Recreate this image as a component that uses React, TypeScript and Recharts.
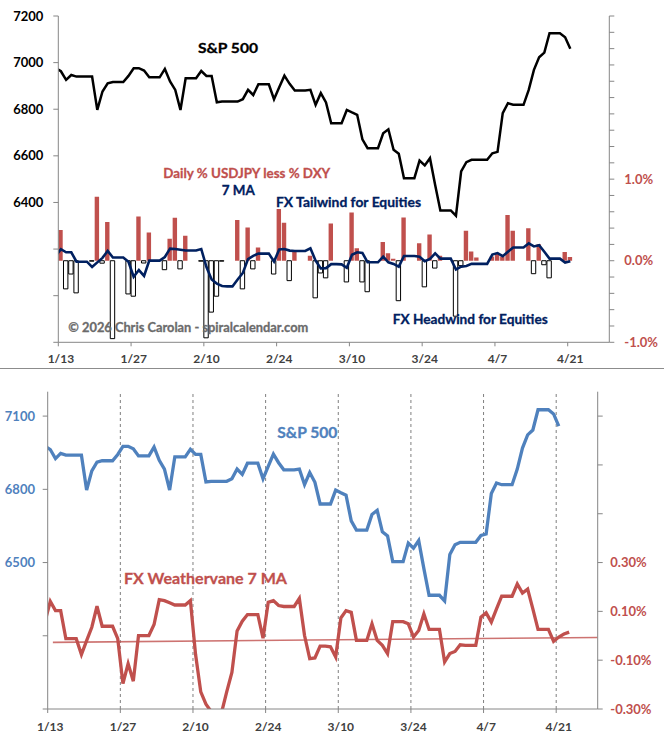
import React from 'react';
import { ComposedChart, Line, Bar, Cell, XAxis, YAxis, ReferenceLine } from 'recharts';

// ---------- data (index 0 = 1/12, index 1 = 1/13, one entry per calendar day) ----------
const firstDay = -1; // day offset of the first entry relative to 1/13

const tickDays = [0, 14, 28, 42, 56, 70, 84, 98];
const tickLabels = ['1/13', '1/27', '2/10', '2/24', '3/10', '3/24', '4/7', '4/21'];

// S&P 500 close (weekends / holidays carry the prior close)
const spx = [
  6977, 6963, 6926, 6947, 6940, 6940, 6940, // 1/12 - 1/18
  6940, 6797, 6876, 6911, 6917, 6917, 6917, // 1/19 - 1/25
  6943, 6976, 6976, 6966, 6937, 6937, 6937, // 1/26 - 2/1
  6973, 6919, 6883, 6797, 6933, 6933, 6933, // 2/2 - 2/8
  6964, 6943, 6943, 6830, 6833, 6833, 6833, // 2/9 - 2/15
  6833, 6843, 6883, 6861, 6907, 6907, 6907, // 2/16 - 2/22
  6843, 6894, 6944, 6909, 6880, 6880, 6880, // 2/23 - 3/1
  6883, 6819, 6869, 6829, 6740, 6740, 6740, // 3/2 - 3/8
  6797, 6786, 6776, 6671, 6633, 6633, 6633, // 3/9 - 3/15
  6697, 6714, 6626, 6609, 6504, 6504, 6504, // 3/16 - 3/22
  6580, 6559, 6590, 6475, 6366, 6366, 6366, // 3/23 - 3/29
  6343, 6533, 6573, 6583, 6583, 6583, 6583, // 3/30 - 4/5
  6611, 6617, 6783, 6826, 6819, 6819, 6819, // 4/6 - 4/12
  6883, 6969, 7023, 7043, 7126, 7126, 7126, // 4/13 - 4/19
  7109, 7059, // 4/20 - 4/21
];

// Daily % USDJPY less % DXY (in %)
const fxDaily: (number | null)[] = [
  null, 0.378, -0.345, -0.163, -0.394, null, null,
  -0.005, 0.784, -0.03, 0.476, -0.955, null, null,
  -0.407, -0.435, 0.541, -0.028, 0.346, null, null,
  -0.11, 0.268, 0.528, -0.1, 0.305, null, null,
  -0.005, -0.945, -0.63, -0.435, -0.005, null, null,
  0.5, -0.345, 0.407, -0.1, 0.163, null, null,
  -0.163, 0.634, 0.467, -0.244, 0.122, null, null,
  0.061, -0.455, -0.15, -0.21, 0.455, null, null,
  -0.26, 0.59, 0.154, -0.26, -0.38, null, null,
  0.23, 0.093, 0.024, -0.49, 0.53, null, null,
  0.215, -0.32, 0.32, -0.09, 0.06, null, null,
  -0.68, -0.06, 0.366, 0.114, 0.04, null, null,
  0.053, 0.093, 0.053, 0.561, 0.366, null, null,
  0.398, -0.159, 0.203, -0.049, -0.21, null, null,
  0.106, 0.045,
];

// FX Weathervane 7-day moving average (in %)
const fx7ma = [
  0.06, 0.141, 0.103, 0.103, -0.012, -0.012, -0.012,
  -0.077, -0.02, 0.035, 0.121, 0.039, 0.039, 0.039,
  -0.012, -0.196, -0.114, -0.186, 0.001, 0.001, 0.001,
  0.046, 0.148, 0.144, 0.135, 0.126, 0.126, 0.126,
  0.144, -0.077, -0.23, -0.28, -0.31, -0.315, -0.315,
  -0.23, -0.15, 0.02, 0.06, 0.087, 0.087, 0.087,
  -0.01, 0.137, 0.144, 0.124, 0.12, 0.12, 0.12,
  0.153, 0.001, -0.094, -0.091, -0.042, -0.042, -0.045,
  -0.087, 0.073, 0.103, 0.096, -0.019, -0.019, -0.019,
  0.049, -0.019, -0.039, -0.073, 0.058, 0.058, 0.058,
  0.049, -0.005, 0.022, 0.09, 0.026, 0.026, 0.026,
  -0.107, -0.073, -0.064, -0.037, -0.039, -0.039, -0.039,
  0.076, 0.094, 0.056, 0.11, 0.162, 0.162, 0.162,
  0.212, 0.175, 0.191, 0.11, 0.026, 0.026, 0.026,
  -0.023, -0.005, 0.007, 0.015,
];

// linear trend of the 7 MA (start / end of the drawn trendline)
const trendDays = [0.5, 105.5];
const trendValues = [-0.027, -0.007];

const spxTopTicks = [5800, 6000, 6200, 6400, 6600, 6800, 7000, 7200];
const fxTopTicks = [-1, -0.8, -0.6, -0.4, -0.2, 0, 0.2, 0.4, 0.6, 0.8, 1, 1.2, 1.4, 1.6, 1.8, 2, 2.2, 2.4, 2.6, 2.8, 3];
const spxBottomTicks = [5900, 6200, 6500, 6800, 7100];
const fxBottomTicks = [-0.3, -0.1, 0.1, 0.3, 0.5, 0.7, 0.9];

// ---------- tables ----------
const topData = spx.map((v, i) => ({
  x: firstDay + i + 0.5,
  spx: v,
  fx: fxDaily[i],
  ma: fx7ma[i],
}));

const bottomData = fx7ma.map((v, i) => ({
  x: firstDay + i + 0.5,
  spx: i < spx.length ? spx[i] : null,
  ma: v,
}));

const trendData = trendDays.map((d, i) => ({ x: d + 0.5, trend: trendValues[i] }));

// ---------- styles ----------
const FONT = "Lato, 'Open Sans', sans-serif";
const RED = '#C0504D';
const BLUE = '#4F81BD';
const NAVY = '#002060';
const AXIS = '#868686';

const dateLabel = (v: number) => {
  const i = tickDays.indexOf(v);
  return i >= 0 ? tickLabels[i] : '';
};

const DateTick = (props: any) => {
  const { x, y, payload } = props;
  return (
    <text
      x={x + 2.6}
      y={y}
      dy="0.71em"
      textAnchor="middle"
      fontFamily={FONT}
      fontSize={12}
      fontWeight={700}
      fill="#404040"
    >
      {dateLabel(payload.value)}
    </text>
  );
};

const tickStyle = (fill: string) => ({ fill, fontSize: 13, fontWeight: 700, fontFamily: FONT });

type Label = { text: string; x: number; y: number; size: number; fill: string; len: number };
const labels: Label[] = [
  { text: 'S&P 500', x: 198, y: 52.7, size: 14, fill: '#000', len: 60 },
  { text: 'Daily % USDJPY less % DXY', x: 163.3, y: 177.7, size: 14, fill: RED, len: 167 },
  { text: '7 MA', x: 221.7, y: 195, size: 13.5, fill: NAVY, len: 33 },
  { text: 'FX Tailwind for Equities', x: 276, y: 206.5, size: 13.5, fill: NAVY, len: 145 },
  { text: 'FX Headwind for Equities', x: 392.7, y: 324, size: 13.5, fill: NAVY, len: 155 },
  { text: '© 2026 Chris Carolan - spiralcalendar.com', x: 68.3, y: 332, size: 13, fill: '#6b6b6b', len: 240 },
  { text: 'S&P 500', x: 277.3, y: 438, size: 15, fill: BLUE, len: 60 },
  { text: 'FX Weathervane 7 MA', x: 124, y: 583.5, size: 16, fill: RED, len: 163 },
];

export default function App() {
  return (
    <div style={{ position: 'absolute', left: 0, top: 0, width: 664, height: 741, background: '#fff', overflow: 'hidden' }}>
      {/* ---------- top panel ---------- */}
      <div style={{ position: 'absolute', left: 0, top: 0 }}>
        <ComposedChart width={664} height={368} data={topData} margin={{ top: 16, right: 0, bottom: 0, left: 0 }}>
          <XAxis
            type="number"
            dataKey="x"
            domain={[0, 106]}
            ticks={tickDays}
            allowDataOverflow
            height={25.7}
            tick={<DateTick />}
            tickSize={4}
            tickMargin={8.5}
            stroke={AXIS}
          />
          <YAxis
            yAxisId="spx"
            orientation="left"
            width={58.3}
            domain={[5800, 7200]}
            ticks={spxTopTicks}
            allowDataOverflow
            tickFormatter={(v: number) => (v >= 6400 ? String(v) : '')}
            tick={tickStyle('#000')}
            tickSize={5}
            tickMargin={10}
            stroke={AXIS}
          />
          <YAxis
            yAxisId="fx"
            orientation="right"
            width={54.7}
            domain={[-1, 3]}
            ticks={fxTopTicks}
            allowDataOverflow
            tickFormatter={(v: number) => (Number.isInteger(v) && v <= 1 ? `${v.toFixed(1)}%` : '')}
            tick={tickStyle(RED)}
            tickSize={5}
            tickMargin={10}
            stroke={AXIS}
          />
          <Bar yAxisId="fx" dataKey="fx" barSize={4.4} isAnimationActive={false}>
            {topData.map((d, i) => {
              const pos = d.fx != null && d.fx > 0;
              return <Cell key={i} fill={pos ? RED : '#ffffff'} stroke={pos ? 'none' : '#000'} strokeWidth={1} />;
            })}
          </Bar>
          <Line yAxisId="fx" dataKey="ma" type="linear" stroke={NAVY} strokeWidth={2.6} dot={false} isAnimationActive={false} />
          <Line yAxisId="spx" dataKey="spx" type="linear" stroke="#000" strokeWidth={2.5} dot={false} isAnimationActive={false} />
        </ComposedChart>
      </div>

      {/* separator */}
      <div style={{ position: 'absolute', left: 0, top: 368, width: 664, height: 1, background: '#8c8c8c' }} />

      {/* ---------- bottom panel ---------- */}
      <div style={{ position: 'absolute', left: 0, top: 369 }}>
        <ComposedChart width={664} height={372} data={bottomData} margin={{ top: 22.7, right: 0, bottom: 0, left: 0 }}>
          <XAxis
            type="number"
            dataKey="x"
            domain={[0, 106]}
            ticks={tickDays}
            allowDataOverflow
            height={32}
            tick={<DateTick />}
            tickSize={4}
            tickMargin={9.5}
            stroke={AXIS}
          />
          <YAxis
            yAxisId="spxB"
            orientation="left"
            width={47.7}
            domain={[5900, 7200]}
            ticks={spxBottomTicks}
            allowDataOverflow
            tickFormatter={(v: number) => (v >= 6500 ? String(v) : '')}
            tick={tickStyle(BLUE)}
            tickSize={5}
            tickMargin={7.7}
            stroke={AXIS}
          />
          <YAxis
            yAxisId="fxB"
            orientation="right"
            width={66.3}
            domain={[-0.3, 1.0]}
            ticks={fxBottomTicks}
            allowDataOverflow
            tickFormatter={(v: number) => (v <= 0.31 ? `${v.toFixed(2)}%` : '')}
            tick={tickStyle(RED)}
            tickSize={5}
            tickMargin={7.6}
            stroke={AXIS}
          />
          {tickDays.slice(1).map((d) => (
            <ReferenceLine key={d} yAxisId="spxB" x={d} stroke="#7f7f7f" strokeWidth={1} strokeDasharray="3 3" />
          ))}
          <Line yAxisId="spxB" dataKey="spx" type="linear" stroke={BLUE} strokeWidth={3.3} dot={false} isAnimationActive={false} />
          <Line yAxisId="fxB" dataKey="ma" type="linear" stroke={RED} strokeWidth={3.3} dot={false} isAnimationActive={false} />
          <Line
            yAxisId="fxB"
            data={trendData}
            dataKey="trend"
            type="linear"
            stroke={RED}
            strokeOpacity={0.8}
            strokeWidth={1.6}
            dot={false}
            isAnimationActive={false}
          />
        </ComposedChart>
      </div>

      {/* ---------- annotations ---------- */}
      <svg width={664} height={741} style={{ position: 'absolute', left: 0, top: 0, pointerEvents: 'none' }}>
        {labels.map((l, i) => (
          <text
            key={i}
            x={l.x}
            y={l.y}
            fontFamily={FONT}
            fontSize={l.size}
            fontWeight={700}
            fill={l.fill}
            stroke={l.fill}
            strokeWidth={0.3}
            textLength={l.len}
            lengthAdjust="spacingAndGlyphs"
          >
            {l.text}
          </text>
        ))}
      </svg>
    </div>
  );
}
